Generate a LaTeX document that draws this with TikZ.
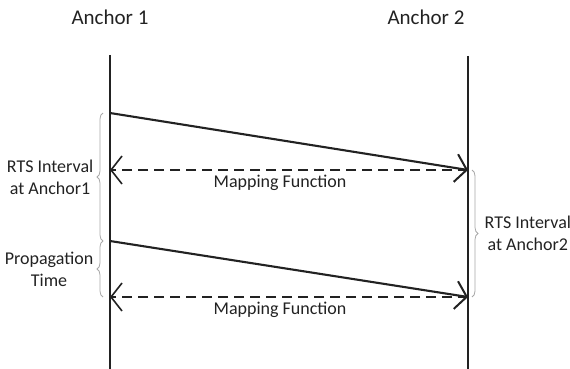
\documentclass[tikz,border=0pt]{standalone}
\usepackage{fontspec}
\setmainfont{Carlito}
\usepackage{tikz}
\usetikzlibrary{arrows.meta}
\usetikzlibrary{decorations.pathreplacing}
\usepackage{xcolor}
\definecolor{inkgray}{HTML}{222222}
\definecolor{bracegray}{HTML}{A8A8A8}

\begin{document}
\begin{tikzpicture}[x=1pt, y=-1pt,
    lifeline/.style={draw=inkgray, line width=2.3pt},
    msg/.style={draw=inkgray, line width=2.1pt, -{Straight Barb[length=11pt,width=28pt,line width=2pt]}},
    mapping/.style={draw=inkgray, line width=1.5pt, dash pattern=on 10pt off 6pt, -{Straight Barb[length=11pt,width=28pt,line width=1.6pt]}},
    span/.style={draw=bracegray, line width=0.8pt, decorate, decoration={brace, amplitude=6pt}},
    title/.style={text=inkgray, font=\fontsize{21}{25}\selectfont},
    lbl/.style={text=inkgray, font=\fontsize{18}{22}\selectfont, align=center}]
    \useasboundingbox (0,0) rectangle (570,369);

    % Anchors
    \node[title] (anc1) at (110,17) {Anchor 1};
    \node[title] (anc2) at (426,17) {Anchor 2};
    \coordinate (a1top) at (110,55);
    \coordinate (a1bot) at (110,369);
    \coordinate (a2top) at (468,56);
    \coordinate (a2bot) at (468,369);
    \draw[lifeline] (a1top) -- (a1bot);
    \draw[lifeline] (a2top) -- (a2bot);

    % Events on the lifelines
    \coordinate (s1) at (110,113);
    \coordinate (r1) at (468,170);
    \coordinate (m1) at (110,170);
    \coordinate (s2) at (110,241);
    \coordinate (r2) at (468,297);
    \coordinate (m2) at (110,297);

    % RTS messages
    \draw[msg] (s1) -- (r1);
    \draw[msg] (s2) -- (r2);

    % Mapping
    \draw[mapping] (r1) -- (m1) node[lbl, pos=0.525, below=1pt] (map1) {Mapping Function};
    \draw[mapping] (r2) -- (m2) node[lbl, pos=0.525, below=1pt] (map2) {Mapping Function};

    % Intervals
    \draw[span] (103,241) -- (103,113) node[lbl, midway, left=6pt] (rts1) {RTS Interval\\at Anchor1};
    \draw[span] (103,297) -- (103,241) node[lbl, midway, left=6pt] (prop) {Propagation\\Time};
    \draw[span] (472,170) -- (472,297) node[lbl, midway, right=9pt] (rts2) {RTS Interval\\at Anchor2};
\end{tikzpicture}
\end{document}
